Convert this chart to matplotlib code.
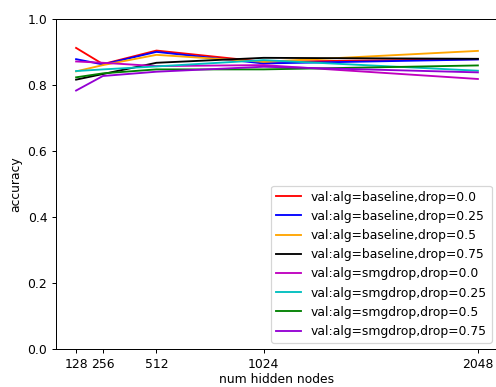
import matplotlib
matplotlib.use('Agg')
import matplotlib.pyplot as plt

# hidden layer sizes
nodes = [128, 256, 512, 1024, 2048]

labels = ['val:alg=baseline,drop=0.0', 'val:alg=baseline,drop=0.25',
          'val:alg=baseline,drop=0.5', 'val:alg=baseline,drop=0.75',
          'val:alg=smgdrop,drop=0.0', 'val:alg=smgdrop,drop=0.25',
          'val:alg=smgdrop,drop=0.5', 'val:alg=smgdrop,drop=0.75']

base_00 = [0.911, 0.862, 0.903, 0.869, 0.877]
base_25 = [0.877, 0.861, 0.899, 0.864, 0.876]
base_50 = [0.840, 0.859, 0.890, 0.869, 0.902]
base_75 = [0.815, 0.832, 0.866, 0.881, 0.878]
smg_00 = [0.870, 0.866, 0.856, 0.859, 0.817]
smg_25 = [0.841, 0.846, 0.855, 0.874, 0.842]
smg_50 = [0.822, 0.834, 0.846, 0.846, 0.858]
smg_75 = [0.782, 0.826, 0.839, 0.854, 0.837]

series = [base_00, base_25, base_50, base_75, smg_00, smg_25, smg_50, smg_75]
colors = ['r', 'b', 'orange', 'k', 'm', 'c', 'g', 'darkviolet']

dpi = 89
fig = plt.figure(figsize=(497./dpi, 387./dpi), dpi=dpi)
ax = fig.add_axes([56/497., 38/387., 442/497., 330.5/387.])

for ys, lab, col in zip(series, labels, colors):
  ax.plot(nodes, ys, color=col, label=lab)

ax.set_ylim(0.0, 1.0)
ax.set_xticks(nodes)
ax.set_xlabel('num hidden nodes', labelpad=2)
ax.set_ylabel('accuracy')
ax.legend(loc='lower right')

fig.savefig('out.png', dpi=dpi)
